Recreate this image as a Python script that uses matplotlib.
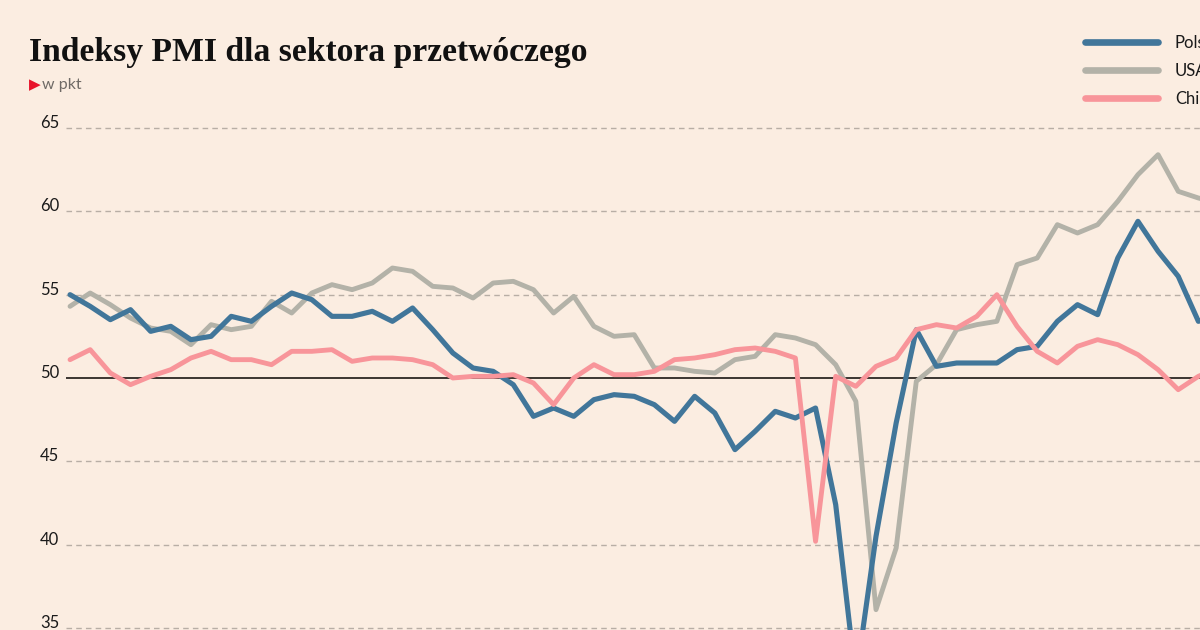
import numpy as np
import matplotlib.pyplot as plt

# monthly PMI readings (index 0 = first month shown)
poland = [55.0, 54.3, 53.5, 54.1, 52.8, 53.1, 52.3, 52.5, 53.7, 53.4, 54.3, 55.1,
          54.7, 53.7, 53.7, 54.0, 53.4, 54.2, 52.9, 51.5, 50.6, 50.4, 49.6, 47.7,
          48.2, 47.7, 48.7, 49.0, 48.9, 48.4, 47.4, 48.9, 47.9, 45.7, 46.8, 48.0,
          47.6, 48.2, 42.4, 31.9, 40.5, 47.3, 52.9, 50.7, 50.9, 50.9, 50.9, 51.7,
          51.9, 53.4, 54.4, 53.8, 57.2, 59.4, 57.6, 56.1, 53.4, 53.8]
usa = [54.3, 55.1, 54.4, 53.6, 53.0, 52.8, 52.0, 53.2, 52.9, 53.1, 54.6, 53.9,
       55.1, 55.6, 55.3, 55.7, 56.6, 56.4, 55.5, 55.4, 54.8, 55.7, 55.8, 55.3,
       53.9, 54.9, 53.1, 52.5, 52.6, 50.6, 50.6, 50.4, 50.3, 51.1, 51.3, 52.6,
       52.4, 52.0, 50.8, 48.6, 36.1, 39.8, 49.8, 50.8, 52.9, 53.2, 53.4, 56.8,
       57.2, 59.2, 58.7, 59.2, 60.6, 62.2, 63.4, 61.2, 60.8, 60.5]
china = [51.1, 51.7, 50.3, 49.6, 50.1, 50.5, 51.2, 51.6, 51.1, 51.1, 50.8, 51.6,
         51.6, 51.7, 51.0, 51.2, 51.2, 51.1, 50.8, 50.0, 50.1, 50.1, 50.2, 49.7,
         48.4, 50.0, 50.8, 50.2, 50.2, 50.4, 51.1, 51.2, 51.4, 51.7, 51.8, 51.6,
         51.2, 40.2, 50.1, 49.5, 50.7, 51.2, 52.9, 53.2, 53.0, 53.7, 55.0, 53.1,
         51.6, 50.9, 51.9, 52.3, 52.0, 51.4, 50.5, 49.3, 50.1, 50.6]
labels = ['Polska', 'USA', 'Chiny']
yticks = [35, 40, 45, 50, 55, 60, 65]

bg = '#fbede1'
W, H = 1200, 630

fig = plt.figure(figsize=(12, 6.3), dpi=100, facecolor=bg)
ax = fig.add_axes([66 / W, 0, 1 - 66 / W, (630 - 110) / H])
ax.set_facecolor(bg)

x = np.arange(len(poland))
l_pl, = ax.plot(x, poland, color='#41769a', lw=3.7, solid_capstyle='round', zorder=4)
l_us, = ax.plot(x, usa, color='#b3b2a8', lw=3.5, solid_capstyle='round', zorder=3)
l_cn, = ax.plot(x, china, color='#f8959a', lw=3.5, solid_capstyle='round', zorder=5)

ax.set_xlim(-0.2, 56.08)
ax.set_ylim(34.88, 66.08)

for v in yticks:
    if v == 50:
        ax.axhline(v, color='#3b3531', lw=1.4, zorder=2)
    else:
        ax.axhline(v, color='#b8aea5', lw=1, ls=(0, (4, 3)), zorder=1)

ax.set_yticks(yticks)
ax.set_xticks([])
ax.tick_params(axis='y', length=0, pad=5, labelsize=12, labelcolor='#1a1a1a')
for lab in ax.get_yticklabels():
    lab.set_fontfamily('Lato')
    lab.set_va('baseline')
for s in ax.spines.values():
    s.set_visible(False)

fig.text(29 / W, 1 - 61 / H, 'Indeksy PMI dla sektora przetwóczego',
         family='Liberation Serif', weight='bold', fontsize=24.2, color='#111111',
         va='baseline', ha='left')
fig.text(29 / W, 1 - 89 / H, '\u25B6', family='DejaVu Sans', fontsize=11,
         color='#e8142b', va='baseline', ha='left')
fig.text(42 / W, 1 - 89 / H, 'w pkt', family='Lato', fontsize=11.5,
         color='#6f6a66', va='baseline', ha='left')

leg = fig.legend([l_pl, l_us, l_cn], labels, loc='upper left',
                 bbox_to_anchor=(1085 / W, 1 - 35 / H), frameon=False,
                 prop={'family': 'Lato', 'size': 12}, handlelength=4.4,
                 handletextpad=1.0, labelspacing=0.72, borderpad=0, borderaxespad=0)
for t in leg.get_texts():
    t.set_color('#1a1a1a')
for h in leg.get_lines():
    h.set_linewidth(4.8)

fig.savefig('out.png', dpi=100, facecolor=bg)
